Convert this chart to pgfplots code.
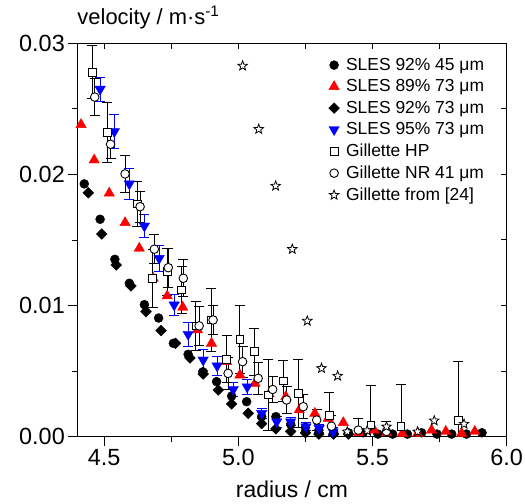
\documentclass[border=0pt]{standalone}
\usepackage{fontspec}
\setmainfont{Liberation Sans}
\usepackage{pgfplots}
\pgfplotsset{compat=1.18}
\usepackage{pgfplotstable}

\pgfdeclareplotmark{ostar}{%
  \pgfpathmoveto{\pgfqpointpolar{90}{\pgfplotmarksize}}%
  \pgfpathlineto{\pgfqpointpolar{126}{0.42\pgfplotmarksize}}%
  \pgfpathlineto{\pgfqpointpolar{162}{\pgfplotmarksize}}%
  \pgfpathlineto{\pgfqpointpolar{198}{0.42\pgfplotmarksize}}%
  \pgfpathlineto{\pgfqpointpolar{234}{\pgfplotmarksize}}%
  \pgfpathlineto{\pgfqpointpolar{270}{0.42\pgfplotmarksize}}%
  \pgfpathlineto{\pgfqpointpolar{306}{\pgfplotmarksize}}%
  \pgfpathlineto{\pgfqpointpolar{342}{0.42\pgfplotmarksize}}%
  \pgfpathlineto{\pgfqpointpolar{18}{\pgfplotmarksize}}%
  \pgfpathlineto{\pgfqpointpolar{54}{0.42\pgfplotmarksize}}%
  \pgfpathclose
  \pgfusepathqfillstroke
}

\pgfplotstableread{
x y
4.426 0.01928
4.485 0.01658
4.540 0.01353
4.594 0.01170
4.650 0.01007
4.703 0.00905
4.758 0.00712
4.813 0.00628
4.868 0.00495
4.919 0.00420
4.975 0.00310
5.031 0.00267
5.087 0.00153
5.140 0.00153
5.195 0.00095
5.250 0.00070
5.300 0.00050
5.355 0.00035
5.410 0.00030
5.465 0.00030
5.520 0.00020
5.575 0.00020
5.630 0.00020
5.683 0.00030
5.740 0.00020
5.795 0.00020
5.850 0.00020
5.908 0.00030
}\tabA

\pgfplotstableread{
x y
4.414 0.0238
4.463 0.0211
4.519 0.01857
4.578 0.01632
4.631 0.01437
4.683 0.01208
4.735 0.01073
4.793 0.00987
4.848 0.00814
4.900 0.00712
4.956 0.00572
5.006 0.00470
5.062 0.00407
5.115 0.00326
5.177 0.00305
5.227 0.00204
5.285 0.00178
5.335 0.00140
5.391 0.00107
5.449 0.00030
5.506 0.00050
5.552 0.00030
5.611 0.00025
5.668 0.00025
5.720 0.00050
5.773 0.00040
5.832 0.00025
5.881 0.00040
}\tabB

\pgfplotstableread{
x y
4.441 0.0186
4.491 0.01546
4.545 0.0131
4.600 0.0115
4.656 0.00954
4.712 0.00809
4.766 0.00712
4.820 0.0060
4.869 0.00478
4.925 0.00356
4.975 0.0025
5.037 0.00178
5.087 0.0010
5.140 0.0006
5.195 0.0004
5.250 0.0003
5.300 0.0002
5.355 0.0002
5.410 0.0002
}\tabC

\pgfplotstableread{
x y e
4.485 0.0265 0.0009
4.538 0.02327 0.0013
4.594 0.01928 0.0012
4.650 0.01607 0.0009
4.705 0.0136 0.0010
4.761 0.01005 0.0008
4.813 0.00781 0.0009
4.869 0.00585 0.0008
4.921 0.0054 0.0007
4.981 0.0036 0.0005
5.033 0.0038 0.0006
5.087 0.00178 0.0004
5.143 0.00114 0.0004
5.195 0.00114 0.0003
5.252 0.00076 0.0003
5.301 0.00064 0.0003
5.353 0.00038 0.0003
}\tabD

\pgfplotstableread{
x y e
4.456 0.0278 0.0020
4.511 0.02322 0.0023
4.623 0.01775 0.0017
4.681 0.01208 0.0022
4.735 0.01259 0.0018
4.789 0.01119 0.0018
4.842 0.00845 0.0019
4.900 0.0089 0.0024
4.956 0.0059 0.0018
5.006 0.00743 0.0026
5.059 0.00648 0.0018
5.111 0.00318 0.0027
5.167 0.00425 0.0016
5.223 0.00331 0.0026
5.339 0.0016 0.0018
5.494 0.00089 0.0030
5.606 0.00076 0.0032
5.820 0.00122 0.0045
}\tabE

\pgfplotstableread{
x y e
4.465 0.0259 0.0014
4.524 0.0223 0.0011
4.578 0.02004 0.0014
4.634 0.01754 0.0012
4.687 0.0143 0.0011
4.739 0.01289 0.0015
4.795 0.01208 0.0014
4.854 0.00845 0.0015
4.906 0.0089 0.0011
4.962 0.00483 0.0012
5.016 0.00572 0.0012
5.074 0.00445 0.0012
5.128 0.0036 0.0010
5.180 0.0028 0.0010
5.242 0.00229 0.0009
5.292 0.00127 0.0008
5.347 0.0008 0.0008
5.447 0.0005 0.0009
5.552 0.0004 0.0008
}\tabF

\pgfplotstableread{
x y
5.016 0.02828
5.076 0.02345
5.139 0.01912
5.201 0.0143
5.257 0.00883
5.310 0.00522
5.370 0.00463
5.406 0.00038
5.480 0.00046
5.552 0.00076
5.668 0.00038
5.730 0.00122
5.841 0.00097
}\tabG

\begin{document}
\begin{tikzpicture}
\begin{axis}[
  at={(0,0)}, anchor=south west,
  scale only axis, width=429.4bp, height=393.4bp,
  xmin=4.4, xmax=6.0, ymin=0, ymax=0.03,
  xtick={4.5,5.0,5.5,6.0}, minor xtick={4.75,5.25,5.75},
  ytick={0,0.01,0.02,0.03}, minor ytick={0.005,0.015,0.025},
  xtick pos=left, ytick pos=left, tick align=outside,
  major tick length=9bp, minor tick length=5bp,
  every tick/.style={black, line width=1bp},
  axis line style={line width=1.5bp},
  scaled y ticks=false, scaled x ticks=false,
  /pgf/number format/assume math mode=true,
  yticklabel style={/pgf/number format/fixed, /pgf/number format/fixed zerofill, /pgf/number format/precision=2},
  xticklabel style={/pgf/number format/fixed, /pgf/number format/fixed zerofill, /pgf/number format/precision=1},
  tick label style={font=\fontsize{23.5}{28}\selectfont},
  xlabel={radius / cm},
  xlabel style={at={(rel axis cs:0.5,0)}, anchor=base, yshift=-60.3bp, inner sep=0pt, font=\fontsize{23}{28}\selectfont},
  title={velocity / m·s\textsuperscript{-1}},
  title style={at={(rel axis cs:0,1)}, anchor=base west, yshift=13.3bp, inner sep=0pt, font=\fontsize{22}{26}\selectfont},
  legend cell align=left,
  legend image code/.code={%
    \path[draw=none, fill=none] (-11bp,0bp) -- (11bp,0bp);
    \draw[mark repeat=1,#1] plot coordinates {(0bp,0bp)};},
  legend style={draw=none, fill=none, font=\fontsize{17.5}{20}\selectfont,
    at={(rel axis cs:0.565,0.970)}, anchor=north west,
    row sep=5.8bp, nodes={inner sep=1bp}, column sep=0bp},
]
\addplot[only marks, mark=*, mark size=4.5bp, mark options={draw=black, fill=black}] table[x=x,y=y] {\tabA};
\addlegendentry{SLES 92\% 45 μm}
\addplot[only marks, mark=triangle*, mark size=6bp, mark options={draw=red, fill=red}] table[x=x,y=y] {\tabB};
\addlegendentry{SLES 89\% 73 μm}
\addplot[only marks, mark=square*, mark size=3.8bp, mark options={rotate=45, draw=black, fill=black}] table[x=x,y=y] {\tabC};
\addlegendentry{SLES 92\% 73 μm}
\addplot[only marks, mark=triangle*, mark size=6bp, mark options={rotate=180, draw=blue, fill=blue},
  error bars/.cd, y dir=both, y explicit,
  error bar style={blue, line width=0.9bp},
  error mark options={rotate=90, mark size=5bp, blue, line width=0.9bp}] table[x=x,y=y,y error=e] {\tabD};
\addlegendentry{SLES 95\% 73 μm}
\addplot[only marks, mark=square*, mark size=3.9bp, mark options={draw=black, fill=white, line width=0.9bp},
  error bars/.cd, y dir=both, y explicit,
  error bar style={black, line width=0.9bp},
  error mark options={rotate=90, mark size=5bp, black, line width=0.9bp}] table[x=x,y=y,y error=e] {\tabE};
\addlegendentry{Gillette HP}
\addplot[only marks, mark=*, mark size=4.3bp, mark options={draw=black, fill=white, line width=0.9bp},
  error bars/.cd, y dir=both, y explicit,
  error bar style={black, line width=0.9bp},
  error mark options={rotate=90, mark size=5bp, black, line width=0.9bp}] table[x=x,y=y,y error=e] {\tabF};
\addlegendentry{Gillette NR 41 μm}
\addplot[only marks, mark=ostar, mark size=5bp, mark options={draw=black, fill=white, line width=0.8bp}] table[x=x,y=y] {\tabG};
\addlegendentry{Gillette from [24]}
\end{axis}
\begin{axis}[
  at={(0,0)}, anchor=south west,
  scale only axis, width=429.4bp, height=393.4bp,
  xmin=4.4, xmax=6.0, ymin=0, ymax=0.03,
  scaled y ticks=false, scaled x ticks=false,
  xtick={4.5,4.75,5.0,5.25,5.5,5.75,6.0},
  ytick={0,0.005,0.01,0.015,0.02,0.025,0.03},
  xticklabels={}, yticklabels={},
  xtick pos=right, ytick pos=right, tick align=inside,
  major tick length=6bp,
  every tick/.style={black, line width=1bp},
  axis line style={draw=none},
]
\end{axis}
\pgfresetboundingbox
\path (-77.3bp,-67.3bp) rectangle (447.7bp,436.7bp);
\end{tikzpicture}
\end{document}
